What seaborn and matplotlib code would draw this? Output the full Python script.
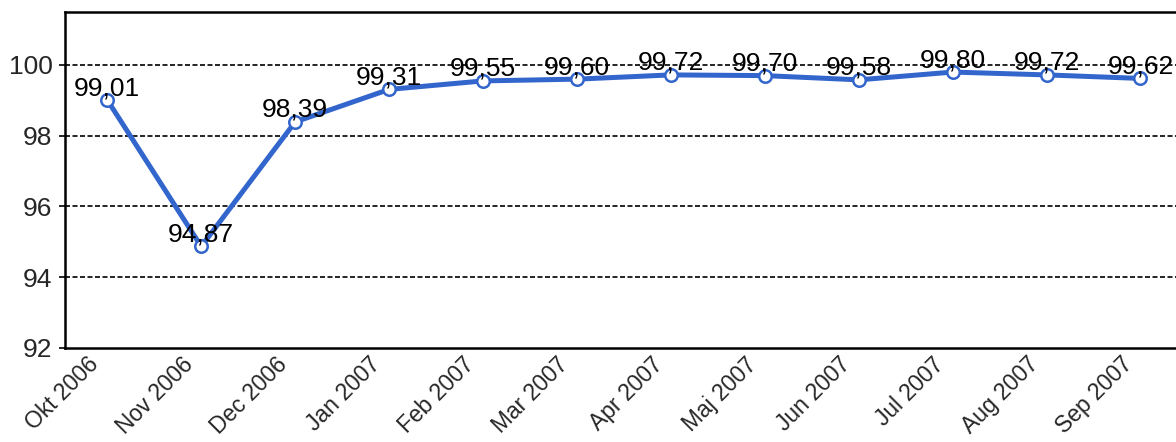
import numpy as np
import pandas as pd
import matplotlib
matplotlib.use("Agg")
import matplotlib.pyplot as plt
import seaborn as sns

months = ["Okt 2006", "Nov 2006", "Dec 2006", "Jan 2007", "Feb 2007", "Mar 2007",
          "Apr 2007", "Maj 2007", "Jun 2007", "Jul 2007", "Aug 2007", "Sep 2007"]
values = [99.01, 94.87, 98.39, 99.31, 99.55, 99.60, 99.72, 99.70, 99.58, 99.80, 99.72, 99.62]
y_ticks = [92, 94, 96, 98, 100]

df = pd.DataFrame({"pos": np.arange(len(months)), "value": values})

sns.set_theme(style="white")
plt.rcParams['font.family'] = ['Liberation Sans', 'DejaVu Sans']

fig = plt.figure(figsize=(11.76, 4.42), dpi=100)
ax = fig.add_axes([0.0553, 0.2127, 0.98, 0.7603])

line_color = "#3366CC"
sns.lineplot(data=df, x="pos", y="value", ax=ax, color=line_color, linewidth=3.6,
             marker="o", markersize=9, markerfacecolor="white",
             markeredgecolor=line_color, markeredgewidth=1.8, zorder=3)

for x, v in zip(df["pos"], df["value"]):
    ax.annotate(f"{v:.2f}".replace(".", ","), (x, v), xytext=(0, 0),
                textcoords="offset points", ha="center", va="bottom",
                fontsize=19, color="black", zorder=4)

ax.set_xlim(-0.45, 11.82)
ax.set_ylim(92, 101.5)
ax.set_yticks(y_ticks)
ax.set_yticklabels([str(t) for t in y_ticks], fontsize=19)
ax.set_xticks(df["pos"])
ax.set_xticklabels([])
ax.set_xlabel("")
ax.set_ylabel("")

# month labels, rotated and set a bit left of each point like the original
for x, m in zip(df["pos"], months):
    ax.annotate(m, (x, 0), xycoords=("data", "axes fraction"), xytext=(-20, -5),
                textcoords="offset pixels", ha="right", va="top", rotation=45,
                rotation_mode="anchor", fontsize=16.5, annotation_clip=False)

for t in y_ticks[1:]:
    ax.axhline(t, color="black", linestyle=(0, (3, 1.5)), linewidth=1.2, zorder=1)

for side in ["left", "bottom", "top"]:
    ax.spines[side].set_visible(True)
    ax.spines[side].set_color("black")
    ax.spines[side].set_linewidth(1.8)
ax.spines["right"].set_visible(False)

ax.tick_params(axis="y", which="major", left=True, length=4, width=1.2, color="black", pad=5)
ax.tick_params(axis="x", bottom=False)

fig.savefig("out.png", dpi=100)
